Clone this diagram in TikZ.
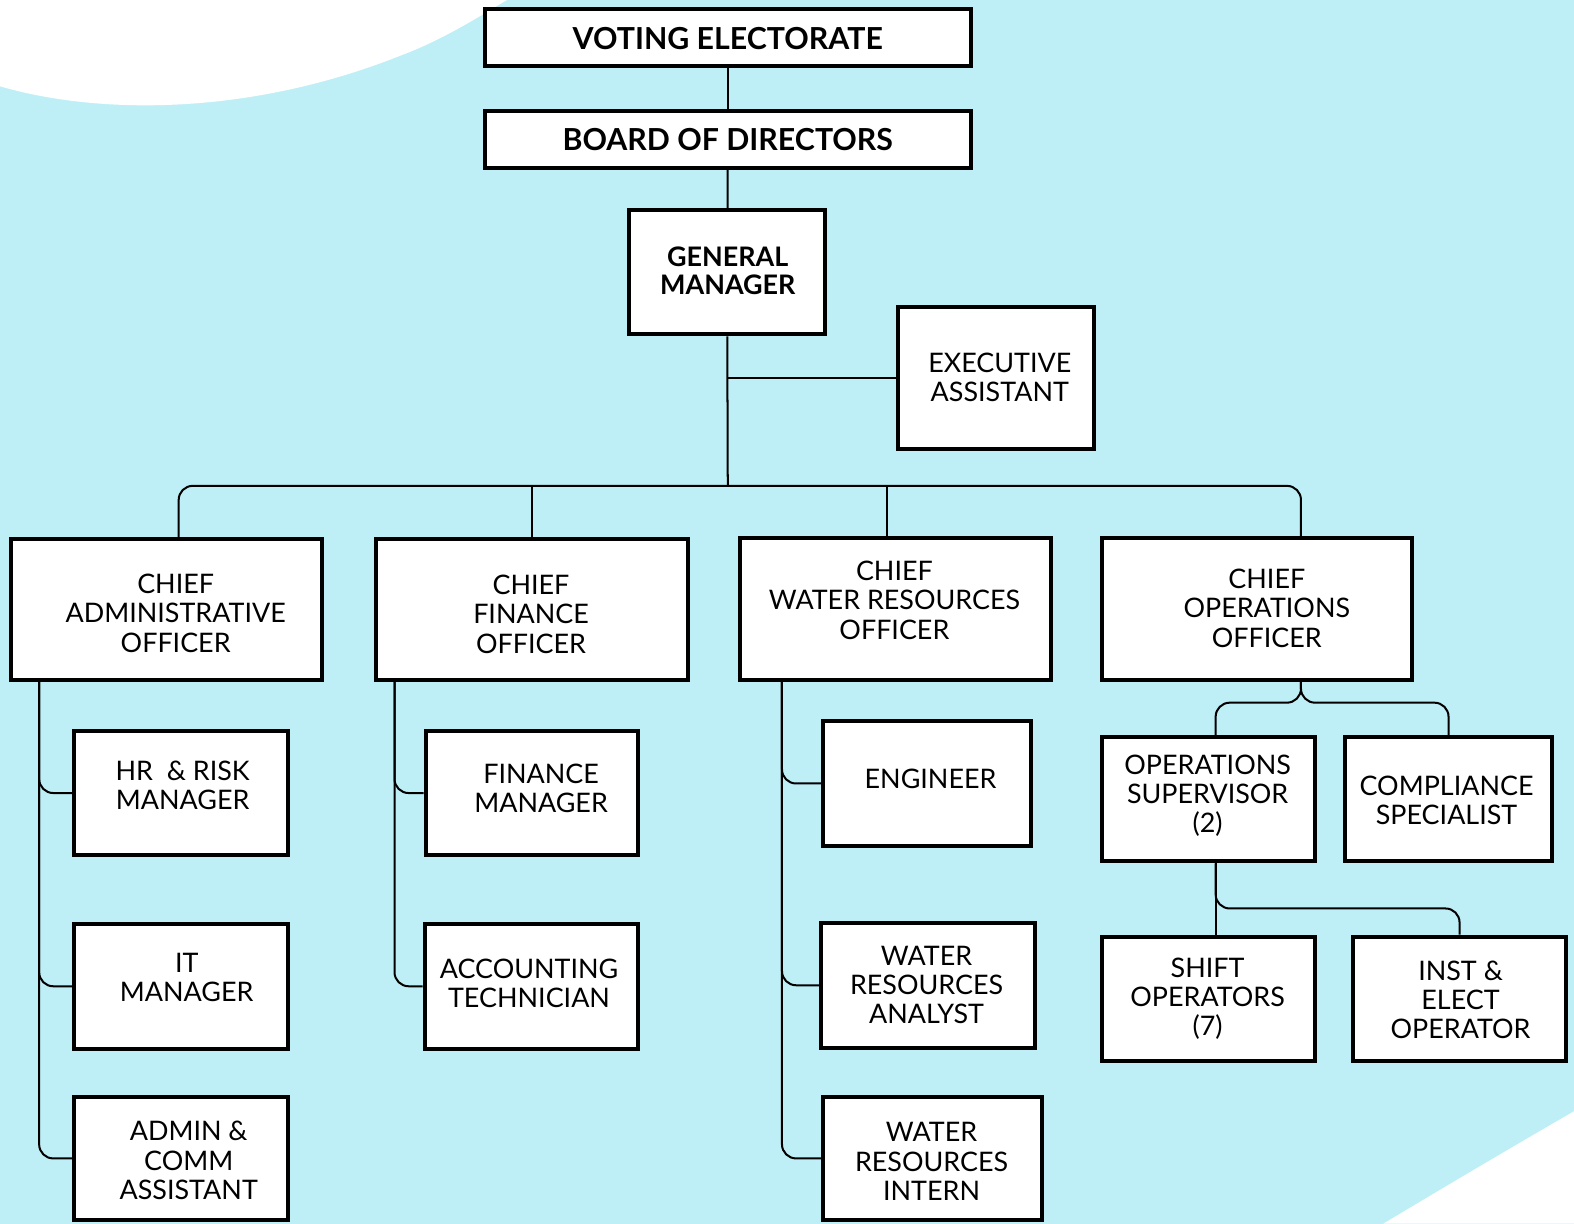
\documentclass[tikz,border=0pt]{standalone}
\usepackage{fontspec}
\setmainfont{Lato}
\definecolor{bg}{RGB}{190,239,246}
\tikzset{
  box/.style={draw=black, line width=2pt, fill=white, rectangle, inner sep=0pt},
  txt/.style={font=\fontsize{13.4}{14.5}\selectfont, align=center, inner sep=0pt, text=black},
  btxt/.style={font=\bfseries\fontsize{13.4}{14}\selectfont, align=center, inner sep=0pt, text=black},
  ttl/.style={font=\bfseries\fontsize{15.1}{18}\selectfont, inner sep=0pt, text=black},
  conn/.style={draw=black, line width=1pt, rounded corners=7pt},
  line/.style={draw=black, line width=1pt}
}
\newcommand\obox[5]{\node[box, minimum width={(#4-#2)*0.5pt-2pt}, minimum height={(#5-#3)*0.5pt-2pt}] (#1) at ({(#2+#4)/2},{(#3+#5)/2}) {};}
\begin{document}
\begin{tikzpicture}[x=0.5pt, y=-0.5pt]
\useasboundingbox (0,0) rectangle (1568,1219);
\clip (0,0) rectangle (1568,1219);
% background
\fill[bg] (0,0) rectangle (1568,1219);
\fill[white] (0,0) -- (0,86) .. controls (100,115) and (250,115) .. (400,55) .. controls (440,40) and (475,18) .. (505,0) -- cycle;
\fill[white] (1568,1107) .. controls (1480,1158) and (1430,1188) .. (1378,1219) -- (1568,1219) -- cycle;

% boxes
\obox{ve}{481}{7}{969}{68}
\obox{bod}{481}{109}{969}{169}
\obox{gm}{625}{207}{824}{335}
\obox{ea}{893}{304}{1092}{449}
\obox{cao}{9}{535}{323}{679}
\obox{cfo}{373}{535}{687}{679}
\obox{cwro}{735}{534}{1049}{679}
\obox{coo}{1096}{534}{1409}{679}
\obox{hr}{72}{726}{289}{854}
\obox{it}{72}{918}{289}{1047}
\obox{adm}{72}{1091}{289}{1217}
\obox{fm}{422}{726}{638}{854}
\obox{at}{421}{918}{638}{1047}
\obox{eng}{818}{716}{1029}{845}
\obox{wra}{816}{917}{1033}{1046}
\obox{wri}{818}{1091}{1040}{1217}
\obox{os}{1096}{732}{1312}{860}
\obox{cs}{1338}{732}{1548}{860}
\obox{so}{1096}{931}{1312}{1059}
\obox{ie}{1346}{931}{1562}{1059}

% texts
\node[ttl] (ve-t) at (725,38) {VOTING ELECTORATE};
\node[ttl] (bod-t) at (725,139) {BOARD OF DIRECTORS};
\node[btxt] (gm-t) at (725,270) {GENERAL\\MANAGER};
\node[txt] (ea-t) at (996,376) {EXECUTIVE\\ASSISTANT};
\node[txt] (cao-t) at (175,611) {CHIEF\\ADMINISTRATIVE\\OFFICER};
\node[txt] (cfo-t) at (529,612) {CHIEF\\FINANCE\\OFFICER};
\node[txt] (cwro-t) at (891,598) {CHIEF\\WATER RESOURCES\\OFFICER};
\node[txt] (coo-t) at (1262,606) {CHIEF\\OPERATIONS\\OFFICER};
\node[txt] (hr-t) at (182,782) {HR~ \& RISK\\MANAGER};
\node[txt] (it-t) at (186,974) {IT\\MANAGER};
\node[txt] (adm-t) at (188,1156) {ADMIN \&\\COMM\\ASSISTANT};
\node[txt] (fm-t) at (539,785) {FINANCE\\MANAGER};
\node[txt] (at-t) at (527,980) {ACCOUNTING\\TECHNICIAN};
\node[txt] (eng-t) at (927,776) {ENGINEER};
\node[txt] (wra-t) at (923,981) {WATER\\RESOURCES\\ANALYST};
\node[txt] (wri-t) at (928,1157) {WATER\\RESOURCES\\INTERN};
\node[txt] (os-t) at (1203,793) {OPERATIONS\\SUPERVISOR\\(2)};
\node[txt] (cs-t) at (1441,797) {COMPLIANCE\\SPECIALIST};
\node[txt] (so-t) at (1203,995) {SHIFT\\OPERATORS\\(7)};
\node[txt] (ie-t) at (1455,996) {INST \&\\ELECT\\OPERATOR};

% connector coordinates
\coordinate (bus) at (725,484);
\coordinate (caoTop) at ([xshift=6pt]cao.north);
\coordinate (cooTop) at ([xshift=21.75pt]coo.north);
\coordinate (cwroTop) at ([xshift=-4pt]cwro.north);
\coordinate (caoB) at ([xshift=15pt]cao.south west);
\coordinate (cfoB) at ([xshift=10pt]cfo.south west);
\coordinate (cwroB) at ([xshift=22pt]cwro.south west);
\coordinate (cooB) at ([xshift=21.75pt]coo.south);
\coordinate (osTop) at ([xshift=3.5pt]os.north);
\coordinate (osB) at ([xshift=3.5pt]os.south);

% connectors
\draw[line] (ve) -- (bod);
\draw[line] (bod) -- (gm);
\draw[line] (gm.south) -- (bus);
\draw[line] (gm.south |- ea.west) -- (ea.west);
\draw[conn] (caoTop) |- (cooTop |- bus) -- (cooTop);
\draw[line] (cfo.north |- bus) -- (cfo.north);
\draw[line] (cwroTop |- bus) -- (cwroTop);

\draw[conn] (caoB) |- (hr.west);
\draw[conn] (caoB) |- (it.west);
\draw[conn] (caoB) |- (adm.west);

\draw[conn] (cfoB) |- (fm.west);
\draw[conn] (cfoB) |- (at.west);

\draw[conn] (cwroB) |- (eng.west);
\draw[conn] (cwroB) |- (wra.west);
\draw[conn] (cwroB) |- (wri.west);

\draw[conn] (cooB) |- ([yshift=16pt]osTop) -- (osTop);
\draw[conn] (cooB) |- ([yshift=16pt]cs.north) -- (cs.north);

\draw[line] (osB) -- (osB |- so.north);
\draw[conn] (osB) |- ([yshift=13pt]ie.north) -- (ie.north);
\end{tikzpicture}
\end{document}
